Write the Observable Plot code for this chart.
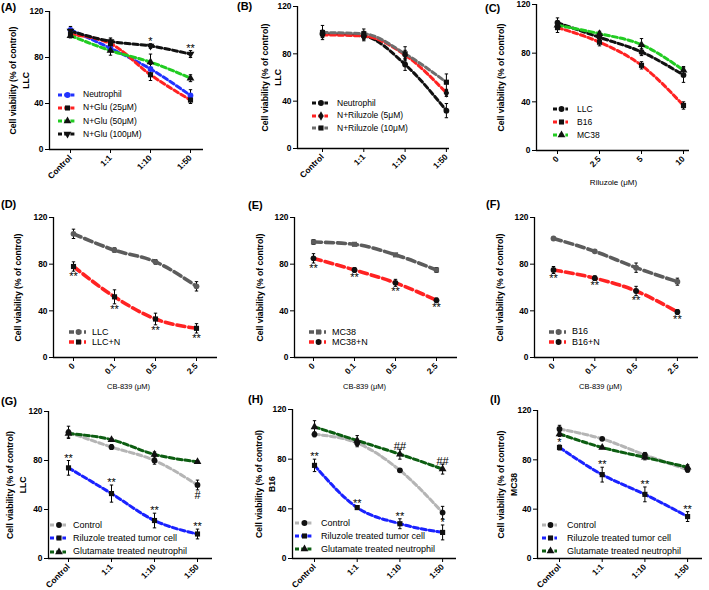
<!DOCTYPE html>
<html><head><meta charset="utf-8">
<script src="https://cdn.jsdelivr.net/npm/d3@7"></script>
<script src="https://cdn.jsdelivr.net/npm/@observablehq/plot@0.6"></script>
<style>
html,body{margin:0;padding:0;background:#fff;}
#fig{position:relative;width:709px;height:590px;overflow:hidden;background:#fff;font-family:"Liberation Sans",Arial,Helvetica,sans-serif;color:#000;}
.plabel{position:absolute;font-weight:bold;font-size:11px;line-height:1;}
.leg{position:absolute;display:flex;align-items:center;white-space:nowrap;line-height:1;height:12px;}
</style></head>
<body><div id="fig"></div>
<script>
// ---------------- data ----------------
const ratioCats = ["Control", "1:1", "1:10", "1:50"];
const riluzoleCats = ["0", "2.5", "5", "10"];
const cb839Cats = ["0", "0.1", "0.5", "2.5"];
const yTickValues = [0, 40, 80, 120];

// (A) LLC, neutrophil + glutamate
const aNeutrophil = [104, 88, 70, 47];
const aNeutrophilErr = [3, 3, 4, 5];
const aGlu25 = [100, 92, 65, 43];
const aGlu25Err = [2, 4, 5, 3];
const aGlu50 = [99, 86, 76, 62];
const aGlu50Err = [2, 4, 7, 3];
const aGlu100 = [103, 94, 90, 83];
const aGlu100Err = [2, 3, 2, 3];
const aSig = [{series: "N+Glu (100μM)", cat: "1:10", label: "*"}, {series: "N+Glu (100μM)", cat: "1:50", label: "**"}];

// (B) LLC, neutrophil + riluzole
const bNeutrophil = [97, 95, 71, 32];
const bNeutrophilErr = [3, 4, 5, 6];
const bRil5 = [96, 95, 79, 47];
const bRil5Err = [2, 3, 4, 3];
const bRil10 = [98, 97, 80, 56];
const bRil10Err = [6, 4, 6, 7];

// (C) riluzole dose
const cLLC = [105, 93, 81, 62];
const cLLCErr = [4, 3, 3, 6];
const cB16 = [101, 89, 70, 37];
const cB16Err = [4, 3, 3, 3];
const cMC38 = [103, 96, 87, 66];
const cMC38Err = [3, 2, 5, 3];

// (D) CB-839 LLC
const dLLC = [106, 92, 82, 61];
const dLLCErr = [4, 2, 2, 4];
const dLLCN = [78, 52, 33, 25];
const dLLCNErr = [4, 6, 5, 4];
const dSig = [{series: "LLC+N", cat: "0", label: "**"}, {series: "LLC+N", cat: "0.1", label: "**"}, {series: "LLC+N", cat: "0.5", label: "**"}, {series: "LLC+N", cat: "2.5", label: "**"}];

// (E) CB-839 MC38
const eMC38 = [99, 97, 88, 75];
const eMC38Err = [2, 1, 1, 2];
const eMC38N = [85, 75, 64, 49];
const eMC38NErr = [4, 2, 3, 2];
const eSig = [{series: "MC38+N", cat: "0", label: "**"}, {series: "MC38+N", cat: "0.1", label: "**"}, {series: "MC38+N", cat: "0.5", label: "**"}, {series: "MC38+N", cat: "2.5", label: "**"}];

// (F) CB-839 B16
const fB16 = [102, 91, 77, 65];
const fB16Err = [1, 1, 4, 3];
const fB16N = [75, 68, 57, 39];
const fB16NErr = [3, 2, 4, 2];
const fSig = [{series: "B16+N", cat: "0", label: "**"}, {series: "B16+N", cat: "0.1", label: "**"}, {series: "B16+N", cat: "0.5", label: "**"}, {series: "B16+N", cat: "2.5", label: "**"}];

// (G) LLC
const gControl = [103, 91, 80, 60];
const gControlErr = [5, 2, 3, 4];
const gRiluzole = [74, 53, 31, 20];
const gRiluzoleErr = [6, 7, 6, 4];
const gGlutamate = [102, 97, 85, 79];
const gGlutamateErr = [3, 1, 2, 1];
const gSig = [{series: "Riluzole treated tumor cell", cat: "Control", label: "**"}, {series: "Riluzole treated tumor cell", cat: "1:1", label: "**"}, {series: "Riluzole treated tumor cell", cat: "1:10", label: "**"}, {series: "Riluzole treated tumor cell", cat: "1:50", label: "**"}, {series: "Control", cat: "1:50", label: "#"}];

// (H) B16
const hControl = [100, 93, 71, 37];
const hControlErr = [2, 3, 1, 5];
const hRiluzole = [75, 41, 28, 21];
const hRiluzoleErr = [5, 1, 4, 6];
const hGlutamate = [106, 95, 84, 72];
const hGlutamateErr = [5, 4, 4, 4];
const hSig = [{series: "Riluzole treated tumor cell", cat: "Control", label: "**"}, {series: "Riluzole treated tumor cell", cat: "1:1", label: "**"}, {series: "Riluzole treated tumor cell", cat: "1:10", label: "**"}, {series: "Riluzole treated tumor cell", cat: "1:50", label: "*"}, {series: "Glutamate treated neutrophil", cat: "1:10", label: "##"}, {series: "Glutamate treated neutrophil", cat: "1:50", label: "##"}];

// (I) MC38
const iControl = [105, 97, 84, 72];
const iControlErr = [3, 1, 2, 2];
const iRiluzole = [90, 68, 52, 34];
const iRiluzoleErr = [2, 6, 6, 4];
const iGlutamate = [101, 90, 82, 74];
const iGlutamateErr = [2, 1, 2, 2];
const iSig = [{series: "Riluzole treated tumor cell", cat: "Control", label: "*"}, {series: "Riluzole treated tumor cell", cat: "1:1", label: "**"}, {series: "Riluzole treated tumor cell", cat: "1:10", label: "**"}, {series: "Riluzole treated tumor cell", cat: "1:50", label: "**"}];

// ---------------- styles / layout ----------------
const BLUE = "#2233ff", RED = "#ff2222", GREEN = "#22cc22", BLACK = "#111", GRAY = "#6e6e6e",
      DGRAY = "#5c5c5c", LGRAY = "#b5b5b5", DGREEN = "#0d5e12", BLUE2 = "#1a22ff";
const FONT = '"Liberation Sans", Arial, Helvetica, sans-serif';
const capSymbol = {draw(ctx, size) { const r = Math.sqrt(size / Math.PI); ctx.moveTo(-r, 0); ctx.lineTo(r, 0); }};
const d3Sym = {circle: d3.symbolCircle, square: d3.symbolSquare, triangle: d3.symbolTriangle, diamond: d3.symbolDiamond};

const panels = [
  {tag: "(A)", tagPos: [1, 2], cats: ratioCats, yTitle: "Cell viability (% of control)\nLLC", yTitleX: 18,
   geom: {left: 0, top: 0, w: 235, h: 190, axisX: 49, x0: 70, step: 40, xEnd: 203, yTop: 11, yBottom: 149},
   series: [
     {name: "Neutrophil", values: aNeutrophil, errors: aNeutrophilErr, color: BLUE, symbol: "circle", mfill: BLUE},
     {name: "N+Glu (25μM)", values: aGlu25, errors: aGlu25Err, color: RED, symbol: "square", mfill: BLACK},
     {name: "N+Glu (50μM)", values: aGlu50, errors: aGlu50Err, color: GREEN, symbol: "triangle", mfill: BLACK},
     {name: "N+Glu (100μM)", values: aGlu100, errors: aGlu100Err, color: BLACK, symbol: "triangle", rotate: 180, mfill: BLACK}],
   sig: aSig, sigSide: {"N+Glu (100μM)": "above"},
   legend: {sx: 58, sw: 17, tx: 83, y0: 94.5, dy: 13.2, fs: 8.5}},
  {tag: "(B)", tagPos: [237, 1], cats: ratioCats, yTitle: "Cell viability (% of control)\nLLC", yTitleX: 270,
   geom: {left: 235, top: 0, w: 235, h: 190, axisX: 297, x0: 322, step: 41.3, xEnd: 449, yTop: 6, yBottom: 148},
   series: [
     {name: "Neutrophil", values: bNeutrophil, errors: bNeutrophilErr, color: BLACK, symbol: "circle", mfill: BLACK},
     {name: "N+Riluzole (5μM)", values: bRil5, errors: bRil5Err, color: RED, symbol: "diamond", mfill: BLACK},
     {name: "N+Riluzole (10μM)", values: bRil10, errors: bRil10Err, color: GRAY, symbol: "square", mfill: BLACK}],
   sig: [], sigSide: {},
   legend: {sx: 312, sw: 16, tx: 337, y0: 103, dy: 12.7, fs: 8.5}},
  {tag: "(C)", tagPos: [485, 3], cats: riluzoleCats, yTitle: "Cell viability (% of control)", yTitleX: 499,
   xTitle: "Riluzole (μM)", xTitleX: 613, xTitleY: 182, xTitleFs: 8,
   geom: {left: 470, top: 0, w: 239, h: 190, axisX: 536, x0: 557, step: 42, xEnd: 689, yTop: 4, yBottom: 150},
   series: [
     {name: "LLC", values: cLLC, errors: cLLCErr, color: BLACK, symbol: "circle", mfill: BLACK},
     {name: "B16", values: cB16, errors: cB16Err, color: RED, symbol: "square", mfill: BLACK},
     {name: "MC38", values: cMC38, errors: cMC38Err, color: GREEN, symbol: "triangle", mfill: BLACK}],
   sig: [], sigSide: {},
   legend: {sx: 553, sw: 15, tx: 577, y0: 109, dy: 13, fs: 8.5}},
  {tag: "(D)", tagPos: [1, 199], cats: cb839Cats, yTitle: "Cell viability (% of control)", yTitleX: 16,
   xTitle: "CB-839 (μM)", xTitleX: 128, xTitleY: 386, xTitleFs: 7.5,
   geom: {left: 0, top: 190, w: 235, h: 200, axisX: 53, x0: 73, step: 41, xEnd: 217, yTop: 217, yBottom: 357},
   series: [
     {name: "LLC", values: dLLC, errors: dLLCErr, color: DGRAY, symbol: "circle", mfill: DGRAY, width: 3.6, dash: "8,4"},
     {name: "LLC+N", values: dLLCN, errors: dLLCNErr, color: RED, symbol: "square", mfill: BLACK, width: 3.6, dash: "8,4"}],
   sig: dSig, sigSide: {"LLC+N": "below"},
   legend: {sx: 69, sw: 17, tx: 92, y0: 332, dy: 10.3, fs: 9}},
  {tag: "(E)", tagPos: [248, 200], cats: cb839Cats, yTitle: "Cell viability (% of control)", yTitleX: 258,
   xTitle: "CB-839 (μM)", xTitleX: 364, xTitleY: 386, xTitleFs: 7.5,
   geom: {left: 235, top: 190, w: 235, h: 200, axisX: 294, x0: 313, step: 41, xEnd: 457, yTop: 217, yBottom: 357},
   series: [
     {name: "MC38", values: eMC38, errors: eMC38Err, color: DGRAY, symbol: "square", mfill: DGRAY, width: 3.6, dash: "8,4"},
     {name: "MC38+N", values: eMC38N, errors: eMC38NErr, color: RED, symbol: "circle", mfill: BLACK, width: 3.6, dash: "8,4"}],
   sig: eSig, sigSide: {"MC38+N": "below"},
   legend: {sx: 309, sw: 17, tx: 332, y0: 332, dy: 10.3, fs: 9}},
  {tag: "(F)", tagPos: [486, 199], cats: cb839Cats, yTitle: "Cell viability (% of control)", yTitleX: 498,
   xTitle: "CB-839 (μM)", xTitleX: 600, xTitleY: 386, xTitleFs: 7.5,
   geom: {left: 470, top: 190, w: 239, h: 200, axisX: 534, x0: 553, step: 41.3, xEnd: 698, yTop: 217, yBottom: 357},
   series: [
     {name: "B16", values: fB16, errors: fB16Err, color: DGRAY, symbol: "circle", mfill: DGRAY, width: 3.6, dash: "8,4"},
     {name: "B16+N", values: fB16N, errors: fB16NErr, color: RED, symbol: "circle", mfill: BLACK, width: 3.6, dash: "8,4"}],
   sig: fSig, sigSide: {"B16+N": "below"},
   legend: {sx: 549, sw: 17, tx: 572, y0: 331.5, dy: 10.5, fs: 9}},
  {tag: "(G)", tagPos: [1, 396], cats: ratioCats, yTitle: "Cell viability (% of control)\nLLC", yTitleX: 15,
   geom: {left: 0, top: 390, w: 235, h: 200, axisX: 48, x0: 68, step: 43, xEnd: 212, yTop: 411, yBottom: 558},
   series: [
     {name: "Control", values: gControl, errors: gControlErr, color: LGRAY, symbol: "circle", mfill: BLACK},
     {name: "Riluzole treated tumor cell", values: gRiluzole, errors: gRiluzoleErr, color: BLUE2, symbol: "square", mfill: BLACK},
     {name: "Glutamate treated neutrophil", values: gGlutamate, errors: gGlutamateErr, color: DGREEN, symbol: "triangle", mfill: BLACK}],
   sig: gSig, sigSide: {"Riluzole treated tumor cell": "above", "Control": "below"},
   legend: {sx: 50, sw: 16, tx: 73, y0: 525, dy: 13.3, fs: 9}},
  {tag: "(H)", tagPos: [248, 394], cats: ratioCats, yTitle: "Cell viability (% of control)\nB16", yTitleX: 264,
   geom: {left: 235, top: 390, w: 235, h: 200, axisX: 292, x0: 314, step: 42.7, xEnd: 456, yTop: 409, yBottom: 558},
   series: [
     {name: "Control", values: hControl, errors: hControlErr, color: LGRAY, symbol: "circle", mfill: BLACK},
     {name: "Riluzole treated tumor cell", values: hRiluzole, errors: hRiluzoleErr, color: BLUE2, symbol: "square", mfill: BLACK},
     {name: "Glutamate treated neutrophil", values: hGlutamate, errors: hGlutamateErr, color: DGREEN, symbol: "triangle", mfill: BLACK}],
   sig: hSig, sigSide: {"Riluzole treated tumor cell": "above", "Glutamate treated neutrophil": "above"},
   legend: {sx: 295, sw: 17, tx: 321, y0: 523, dy: 13, fs: 9}},
  {tag: "(I)", tagPos: [490, 394], cats: ratioCats, yTitle: "Cell viability (% of control)\nMC38", yTitleX: 506,
   geom: {left: 470, top: 390, w: 239, h: 200, axisX: 537, x0: 559, step: 42.7, xEnd: 702, yTop: 410, yBottom: 558},
   series: [
     {name: "Control", values: iControl, errors: iControlErr, color: LGRAY, symbol: "circle", mfill: BLACK},
     {name: "Riluzole treated tumor cell", values: iRiluzole, errors: iRiluzoleErr, color: BLUE2, symbol: "square", mfill: BLACK},
     {name: "Glutamate treated neutrophil", values: iGlutamate, errors: iGlutamateErr, color: DGREEN, symbol: "triangle", mfill: BLACK}],
   sig: iSig, sigSide: {"Riluzole treated tumor cell": "above"},
   legend: {sx: 542, sw: 15, tx: 567, y0: 525, dy: 13, fs: 9}}
];

const fig = document.getElementById("fig");

function drawPanel(p) {
  const g = p.geom;
  const mL = g.axisX - g.left, mR = g.w - (g.xEnd - g.left), mT = g.yTop - g.top, mB = g.h - (g.yBottom - g.top);
  const xDom = [(g.axisX - g.x0) / g.step, (g.xEnd - g.x0) / g.step];
  const cats = p.cats;
  const rows = [];
  p.series.forEach(s => s.values.forEach((v, i) => rows.push({name: s.name, i, v, e: s.errors[i]})));
  const marks = [];
  marks.push(Plot.ruleY([0], {stroke: "#000", strokeWidth: 1.3}));
  marks.push(Plot.ruleX([xDom[0]], {stroke: "#000", strokeWidth: 1.3}));
  p.series.forEach(s => {
    marks.push(Plot.line(rows.filter(r => r.name === s.name), {x: "i", y: "v", stroke: s.color, strokeWidth: s.width || 3,
      strokeDasharray: s.dash || "5,3", curve: "monotone-x"}));
  });
  marks.push(Plot.link(rows, {x1: "i", x2: "i", y1: d => d.v - d.e, y2: d => d.v + d.e, stroke: "#000", strokeWidth: 1}));
  marks.push(Plot.dot(rows, {x: "i", y: d => d.v + d.e, symbol: capSymbol, r: 1.7, stroke: "#000", fill: "none", strokeWidth: 1}));
  marks.push(Plot.dot(rows, {x: "i", y: d => d.v - d.e, symbol: capSymbol, r: 1.7, stroke: "#000", fill: "none", strokeWidth: 1}));
  p.series.forEach(s => {
    marks.push(Plot.dot(rows.filter(r => r.name === s.name), {x: "i", y: "v", symbol: s.symbol, r: 2.9, fill: s.mfill, stroke: "none", rotate: s.rotate || 0}));
  });
  const sig = p.sig.map(a => {
    const r = rows.find(r => r.name === a.series && r.i === cats.indexOf(a.cat));
    return {...a, i: r.i, v: r.v, e: r.e, side: p.sigSide[a.series]};
  });
  marks.push(Plot.text(sig.filter(s => s.side === "above"), {x: "i", y: d => d.v + d.e, text: "label", lineAnchor: "bottom", dy: 1, fontSize: 11, fontWeight: "normal"}));
  marks.push(Plot.text(sig.filter(s => s.side === "below"), {x: "i", y: d => d.v - d.e, text: "label", lineAnchor: "top", dy: 1, fontSize: 11, fontWeight: "normal"}));
  marks.push(Plot.text([p.yTitle], {frameAnchor: "left", rotate: -90, dx: p.yTitleX - g.axisX, text: d => d,
    fontSize: 8.6, fontWeight: "bold", lineHeight: 1.45, lineAnchor: "middle", textAnchor: "middle"}));
  if (p.xTitle) {
    const cx = (g.axisX + g.xEnd) / 2;
    marks.push(Plot.text([p.xTitle], {frameAnchor: "bottom", dx: p.xTitleX - cx, dy: p.xTitleY - g.yBottom, text: d => d,
      fontSize: p.xTitleFs, fontWeight: "normal", lineAnchor: "middle"}));
  }
  const svg = Plot.plot({
    width: g.w, height: g.h, marginLeft: mL, marginRight: mR, marginTop: mT, marginBottom: mB,
    style: {fontFamily: FONT, fontSize: "8.4px", fontWeight: "bold", color: "#000", background: "transparent", overflow: "visible"},
    x: {type: "linear", domain: xDom, ticks: cats.map((c, i) => i), tickFormat: i => cats[i], tickRotate: -45, tickSize: 4, tickPadding: 3, label: null},
    y: {domain: [0, 120], ticks: yTickValues, tickSize: 4, tickPadding: 2, label: null},
    marks
  });
  svg.style.position = "absolute";
  svg.style.left = g.left + "px";
  svg.style.top = g.top + "px";
  fig.appendChild(svg);

  const tag = document.createElement("div");
  tag.className = "plabel";
  tag.textContent = p.tag;
  tag.style.left = p.tagPos[0] + "px";
  tag.style.top = p.tagPos[1] + "px";
  fig.appendChild(tag);

  const L = p.legend;
  p.series.forEach((s, k) => {
    const yc = L.y0 + k * L.dy;
    const row = document.createElement("div");
    row.className = "leg";
    row.style.left = L.sx + "px";
    row.style.top = (yc - 6) + "px";
    row.style.fontSize = L.fs + "px";
    const sw = d3.create("svg").attr("width", L.tx - L.sx).attr("height", 12).style("display", "block");
    sw.append("line").attr("x1", 0).attr("x2", L.sw).attr("y1", 6).attr("y2", 6)
      .attr("stroke", s.color).attr("stroke-width", s.width || 3).attr("stroke-dasharray", s.dash ? "5,2.5" : "4,2.2");
    sw.append("path").attr("d", d3.symbol(d3Sym[s.symbol], 26)())
      .attr("transform", `translate(${L.sw / 2 + 1},6) rotate(${s.rotate || 0})`).attr("fill", s.mfill);
    row.appendChild(sw.node());
    const t = document.createElement("span");
    t.textContent = s.name;
    row.appendChild(t);
    fig.appendChild(row);
  });
}

panels.forEach(drawPanel);
</script>
</body></html>
